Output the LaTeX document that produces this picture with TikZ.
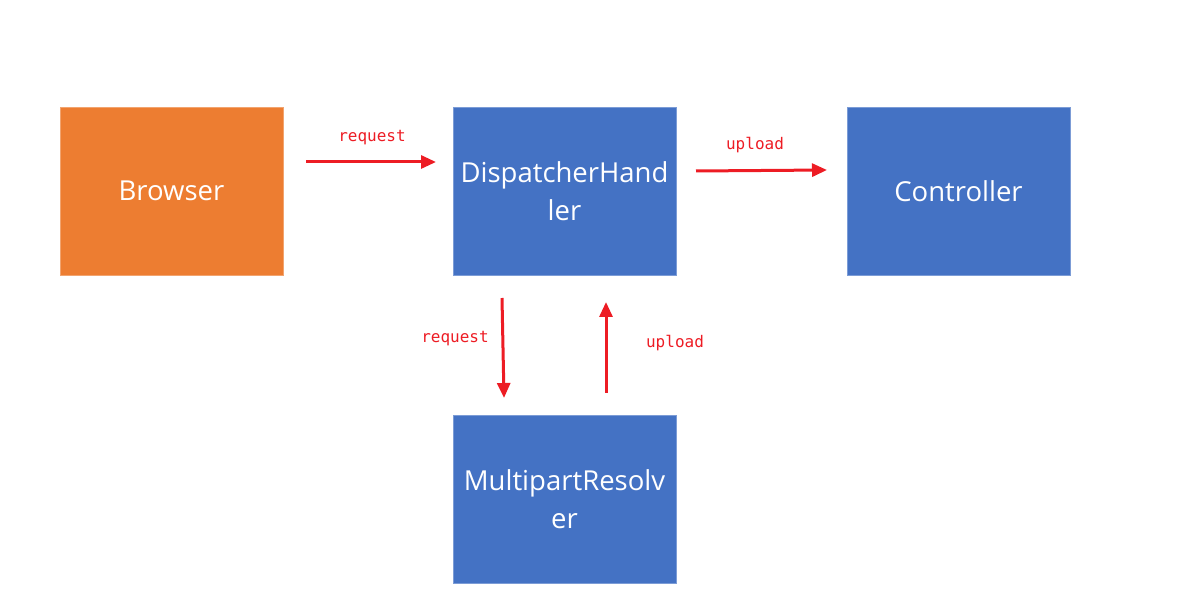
\documentclass[tikz,border=0pt]{standalone}
\usepackage{fontspec}
\setmainfont{Open Sans}
\newfontfamily\labelfont{DejaVu Sans Mono}
\usetikzlibrary{arrows.meta}
\definecolor{boxblue}{HTML}{4472C4}
\definecolor{boxorange}{HTML}{ED7D31}
\definecolor{arrred}{HTML}{ED1C24}
\begin{document}
\begin{tikzpicture}[x=1pt,y=-1pt,
  box/.style={minimum width=223pt,minimum height=168pt,inner sep=0pt,text=white,align=center,font=\fontsize{27.5}{38}\selectfont,draw=#1!70!white,line width=0.8pt,fill=#1},
  flow/.style={draw=arrred,line width=3pt,-{Triangle[length=15pt,width=13pt]}},
  lbl/.style={text=arrred,font=\labelfont\fontsize{16}{18}\selectfont,inner sep=0pt}]
\useasboundingbox (0,0) rectangle (1184,612);
\node[box=boxorange] (browser) at (171.5,191) {Browser};
\node[box=boxblue] (disp) at (564.5,191) {DispatcherHand\\ler};
\node[box=boxblue] (ctrl) at (958.5,191) {Controller};
\node[box=boxblue] (mpr) at (564.5,499) {MultipartResolv\\er};
\coordinate (a1s) at (306,162);
\coordinate (a1e) at (436,162);
\coordinate (a2s) at (696,171);
\coordinate (a2e) at (827,170);
\coordinate (a3s) at (502,298);
\coordinate (a3e) at (504,398);
\coordinate (a4s) at (606,393);
\coordinate (a4e) at (606,302);
\draw[flow] (a1s) -- (a1e);
\draw[flow] (a2s) -- (a2e);
\draw[flow] (a3s) -- (a3e);
\draw[flow] (a4s) -- (a4e);
\node[lbl] (l1) at (372,138) {request};
\node[lbl] (l2) at (755,145) {upload};
\node[lbl] (l3) at (455,339) {request};
\node[lbl] (l4) at (675,343) {upload};
\end{tikzpicture}
\end{document}
